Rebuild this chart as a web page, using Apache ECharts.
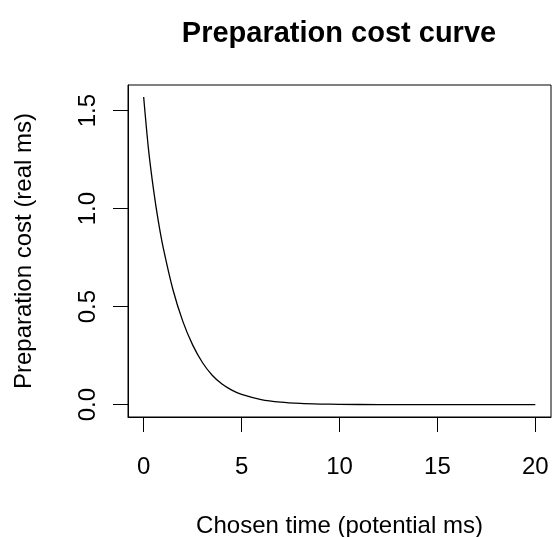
<!DOCTYPE html>
<html>
<head>
<meta charset="utf-8">
<script src="https://cdn.jsdelivr.net/npm/echarts@6/dist/echarts.min.js"></script>
<style>
  html, body { margin: 0; padding: 0; background: #fff; }
  #chart { width: 553px; height: 537px; }
</style>
</head>
<body>
<div id="chart"></div>
<script>
// values
var chosenTime = [0, 0.25, 0.5, 0.75, 1, 1.5, 2, 2.5, 3, 3.5, 4, 4.5, 5, 6, 7, 8, 9, 10, 12, 14, 16, 18, 20];
var prepCost = [1.57, 1.30, 1.10, 0.935, 0.80, 0.585, 0.425, 0.305, 0.215, 0.15, 0.105, 0.074, 0.052, 0.026, 0.013, 0.0065, 0.0032, 0.0016, 0.0004, 0.0001, 0, 0, 0];
var xTicks = [0, 5, 10, 15, 20];
var yTicks = [0, 0.5, 1, 1.5];

window.onload = function () {
    var chart = echarts.init(document.getElementById('chart'));

    var points = [];
    for (var i = 0; i < chosenTime.length; i++) {
        points.push([chosenTime[i], prepCost[i]]);
    }

    var font = 'Liberation Sans, Arial, sans-serif';

    var option = {
        backgroundColor: '#fff',
        animation: false,
        title: {
            text: 'Preparation cost curve',
            left: 339,
            top: 19,
            padding: 0,
            textAlign: 'center',
            textStyle: { fontFamily: font, fontSize: 29, fontWeight: 'bold', color: '#000' }
        },
        grid: {
            left: 128, right: 2, top: 85, bottom: 120,
            outerBoundsMode: 'none',
            containLabel: false,
            show: true, borderColor: '#000', borderWidth: 1, backgroundColor: 'transparent'
        },
        xAxis: {
            type: 'value',
            min: -0.8, max: 20.8,
            name: 'Chosen time (potential ms)',
            nameLocation: 'middle',
            nameGap: 97,
            nameTextStyle: { fontFamily: font, fontSize: 24, color: '#000' },
            axisLine: { show: true, onZero: false, lineStyle: { color: '#000' } },
            axisTick: { show: true, inside: false, length: 15, customValues: xTicks, lineStyle: { color: '#000' } },
            axisLabel: {
                customValues: xTicks, margin: 38,
                fontFamily: font, fontSize: 24, color: '#000'
            },
            splitLine: { show: false }
        },
        yAxis: {
            type: 'value',
            min: -0.063, max: 1.631,
            name: 'Preparation cost (real ms)',
            nameLocation: 'middle',
            nameGap: 92,
            nameRotate: 90,
            nameTextStyle: { fontFamily: font, fontSize: 24, color: '#000' },
            axisLine: { show: true, onZero: false, lineStyle: { color: '#000' } },
            axisTick: { show: true, inside: false, length: 15, customValues: yTicks, lineStyle: { color: '#000' } },
            axisLabel: {
                customValues: yTicks, margin: 28, rotate: 90,
                fontFamily: font, fontSize: 24, color: '#000',
                formatter: function (v) { return v.toFixed(1); }
            },
            splitLine: { show: false }
        },
        series: [{
            type: 'line',
            data: points,
            smooth: 0.3,
            showSymbol: false,
            lineStyle: { color: '#000', width: 1.3 }
        }]
    };

    chart.setOption(option);
};
</script>
</body>
</html>
